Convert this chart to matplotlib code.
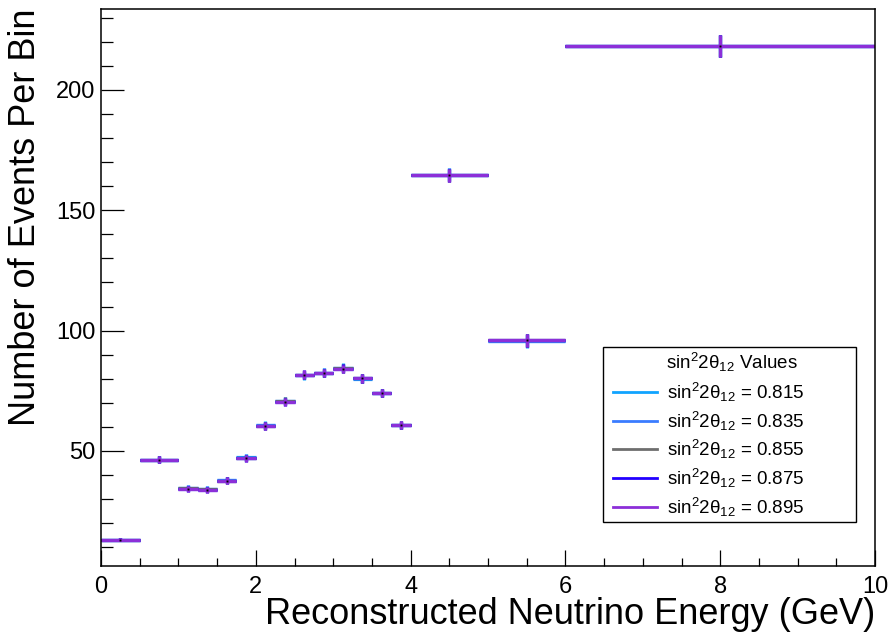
import numpy as np
import matplotlib
matplotlib.use("Agg")
import matplotlib.pyplot as plt
from matplotlib.patches import Rectangle
from matplotlib.lines import Line2D

plt.rcParams["font.family"] = ["Liberation Sans", "DejaVu Sans"]
plt.rcParams["mathtext.fontset"] = "custom"
plt.rcParams["mathtext.rm"] = "Liberation Sans"
plt.rcParams["mathtext.it"] = "Liberation Sans"
plt.rcParams["mathtext.bf"] = "Liberation Sans:bold"

# Reconstructed-energy binning (GeV)
bin_edges = [0.0, 0.5, 1.0, 1.25, 1.5, 1.75, 2.0, 2.25, 2.5, 2.75,
             3.0, 3.25, 3.5, 3.75, 4.0, 5.0, 6.0, 10.0]

# Oscillation parameter values and their colours
sin2_values = ["0.815", "0.835", "0.855", "0.875", "0.895"]
series_colors = ["#10a4ff", "#3a7cff", "#6e6e6e", "#2200ff", "#8c2fd8"]

# Events per bin for each sin^2(2 theta_12) value
events_0815 = [13.1, 46.3, 34.7, 34.2, 37.8, 47.3, 60.9, 70.9, 81.4, 82.5,
               84.6, 80.0, 74.0, 60.6, 164.8, 95.6, 218.2]
events_0835 = [13.1, 46.3, 34.5, 34.1, 37.8, 47.2, 60.6, 70.8, 81.5, 82.5,
               84.4, 80.1, 74.1, 60.6, 164.7, 95.8, 218.3]
events_0855 = [13.2, 46.4, 34.4, 34.0, 37.7, 47.1, 60.5, 70.6, 81.6, 82.4,
               84.3, 80.1, 74.2, 60.7, 164.6, 95.9, 218.3]
events_0875 = [13.2, 46.4, 34.3, 33.9, 37.7, 47.0, 60.4, 70.5, 81.7, 82.4,
               84.2, 80.2, 74.2, 60.7, 164.6, 96.0, 218.3]
events_0895 = [13.2, 46.4, 34.3, 33.9, 37.7, 47.0, 60.3, 70.4, 81.7, 82.4,
               84.1, 80.2, 74.2, 60.7, 164.6, 96.0, 218.3]

# Statistical uncertainty per bin
errors = [0.6, 1.4, 1.2, 1.2, 1.3, 1.4, 1.6, 1.7, 1.8, 1.8,
          1.8, 1.8, 1.7, 1.6, 2.7, 2.7, 4.6]

all_series = [events_0815, events_0835, events_0855, events_0875, events_0895]

edges = np.array(bin_edges)
centers = 0.5 * (edges[:-1] + edges[1:])
half_widths = 0.5 * (edges[1:] - edges[:-1])

fig = plt.figure(figsize=(8.89, 6.35), dpi=100)
ax = fig.add_axes([101 / 889, 1 - 566 / 635, 774 / 889, 557 / 635])

for vals, col in zip(all_series, series_colors):
    ax.errorbar(centers, vals, xerr=half_widths, yerr=errors, fmt="none",
                ecolor=col, elinewidth=2.3, capsize=0)
    ax.plot(centers, vals, "s", ms=1.4, color="black", mew=0)

ax.set_xlim(0, 10)
ax.set_ylim(2.2, 233.6)
ax.set_xticks(np.arange(0, 10.1, 2))
ax.set_xticks(np.arange(0, 10.01, 0.5), minor=True)
ax.set_yticks([50, 100, 150, 200])
ax.set_yticks(np.arange(10, 231, 10), minor=True)

ax.tick_params(axis="both", which="both", direction="in", top=False,
               right=False, width=0.9, labelsize=17)
ax.tick_params(axis="x", which="major", length=11.5, pad=7)
ax.tick_params(axis="x", which="minor", length=5.8)
ax.tick_params(axis="y", which="major", length=16.5, pad=4)
ax.tick_params(axis="y", which="minor", length=8.5)
for sp in ax.spines.values():
    sp.set_linewidth(1.1)

ax.set_xlabel("Reconstructed Neutrino Energy (GeV)", fontsize=26,
              loc="right")
ax.xaxis.set_label_coords(1.0, -0.056)
ax.set_ylabel("Number of Events Per Bin", fontsize=26, loc="top")
ax.yaxis.set_label_coords(-0.075, 1.0)

# Legend box
def px_to_axes(px, py):
    return (px - 101) / 774, (566 - py) / 557

x0, y0 = px_to_axes(603, 522)
x1, y1 = px_to_axes(856, 347)
ax.add_patch(Rectangle((x0, y0), x1 - x0, y1 - y0, transform=ax.transAxes,
                       facecolor="white", edgecolor="black", lw=1.0,
                       zorder=5))
hx, hy = px_to_axes(732, 362)
ax.text(hx, hy, r"sin$^{2}$2$\theta_{12}$ Values", transform=ax.transAxes,
        ha="center", va="center", fontsize=13.5, zorder=6)
row_y = [392, 421, 449, 478, 507]
for val, col, ry in zip(sin2_values, series_colors, row_y):
    lx0, ly = px_to_axes(613, ry)
    lx1, _ = px_to_axes(657, ry)
    ax.add_line(Line2D([lx0, lx1], [ly, ly], transform=ax.transAxes,
                       color=col, lw=2.0, zorder=6))
    tx, _ = px_to_axes(667, ry)
    ax.text(tx, ly, r"sin$^{2}$2$\theta_{12}$ = " + val,
            transform=ax.transAxes, ha="left", va="center", fontsize=13.5,
            zorder=6)

fig.savefig("out.png", dpi=100)
